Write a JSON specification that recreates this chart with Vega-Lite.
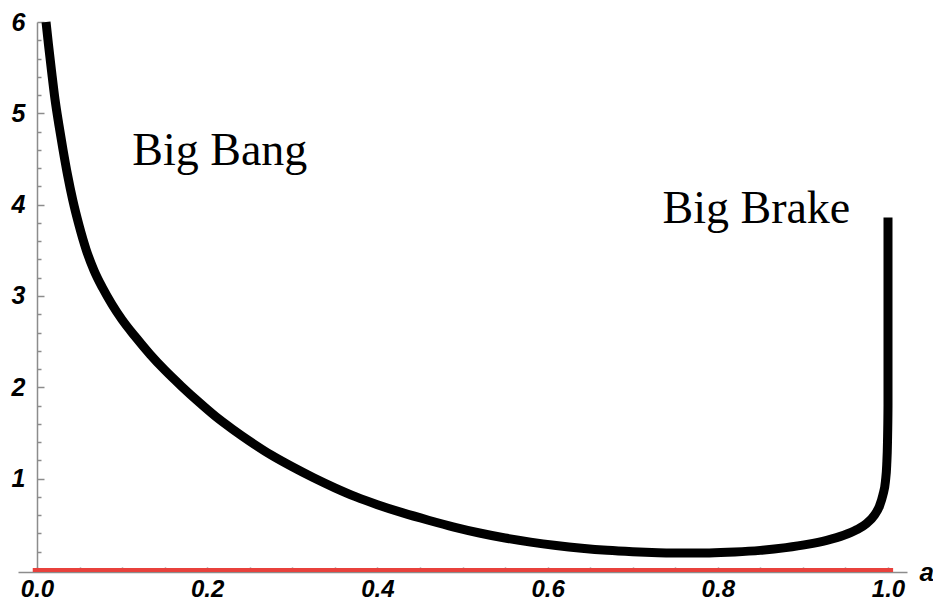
{
  "$schema": "https://vega.github.io/schema/vega-lite/v6.json",
  "width": 889,
  "height": 550,
  "autosize": {"type": "none"},
  "padding": {"left": 18, "top": 22, "right": 26, "bottom": 30},
  "background": "white",
  "config": {"view": {"stroke": null}},
  "datasets": {
    "curve": [
      {"i": 0, "a": 0.0106, "H": 6.0},
      {"i": 1, "a": 0.0135, "H": 5.75},
      {"i": 2, "a": 0.017, "H": 5.47},
      {"i": 3, "a": 0.0212, "H": 5.15},
      {"i": 4, "a": 0.0258, "H": 4.87},
      {"i": 5, "a": 0.0306, "H": 4.6},
      {"i": 6, "a": 0.036, "H": 4.32},
      {"i": 7, "a": 0.042, "H": 4.05},
      {"i": 8, "a": 0.0495, "H": 3.77},
      {"i": 9, "a": 0.058, "H": 3.5},
      {"i": 10, "a": 0.067, "H": 3.28},
      {"i": 11, "a": 0.077, "H": 3.09},
      {"i": 12, "a": 0.088, "H": 2.91},
      {"i": 13, "a": 0.1, "H": 2.74},
      {"i": 14, "a": 0.115, "H": 2.56},
      {"i": 15, "a": 0.133, "H": 2.36},
      {"i": 16, "a": 0.15, "H": 2.19},
      {"i": 17, "a": 0.17, "H": 2.01},
      {"i": 18, "a": 0.19, "H": 1.84},
      {"i": 19, "a": 0.21, "H": 1.68},
      {"i": 20, "a": 0.23, "H": 1.54},
      {"i": 21, "a": 0.25, "H": 1.41},
      {"i": 22, "a": 0.275, "H": 1.26},
      {"i": 23, "a": 0.3, "H": 1.13},
      {"i": 24, "a": 0.325, "H": 1.01},
      {"i": 25, "a": 0.35, "H": 0.9},
      {"i": 26, "a": 0.375, "H": 0.8},
      {"i": 27, "a": 0.4, "H": 0.715},
      {"i": 28, "a": 0.43, "H": 0.625},
      {"i": 29, "a": 0.46, "H": 0.545},
      {"i": 30, "a": 0.49, "H": 0.47},
      {"i": 31, "a": 0.52, "H": 0.405},
      {"i": 32, "a": 0.55, "H": 0.35},
      {"i": 33, "a": 0.58, "H": 0.305},
      {"i": 34, "a": 0.61, "H": 0.268},
      {"i": 35, "a": 0.64, "H": 0.238},
      {"i": 36, "a": 0.67, "H": 0.215},
      {"i": 37, "a": 0.70, "H": 0.2},
      {"i": 38, "a": 0.73, "H": 0.19},
      {"i": 39, "a": 0.76, "H": 0.185},
      {"i": 40, "a": 0.79, "H": 0.187},
      {"i": 41, "a": 0.82, "H": 0.197},
      {"i": 42, "a": 0.85, "H": 0.215},
      {"i": 43, "a": 0.88, "H": 0.245},
      {"i": 44, "a": 0.905, "H": 0.28},
      {"i": 45, "a": 0.928, "H": 0.325},
      {"i": 46, "a": 0.948, "H": 0.38},
      {"i": 47, "a": 0.963, "H": 0.44},
      {"i": 48, "a": 0.975, "H": 0.51},
      {"i": 49, "a": 0.984, "H": 0.6},
      {"i": 50, "a": 0.99, "H": 0.7},
      {"i": 51, "a": 0.994, "H": 0.82},
      {"i": 52, "a": 0.997, "H": 0.97},
      {"i": 53, "a": 0.9985, "H": 1.15},
      {"i": 54, "a": 0.9994, "H": 1.4},
      {"i": 55, "a": 1.0, "H": 1.8},
      {"i": 56, "a": 1.0, "H": 3.86}
    ],
    "zero": [
      {"a": -0.005, "H": 0},
      {"a": 1.006, "H": 0}
    ],
    "labels": [
      {"a": 0.112, "H": 4.43, "label": "Big Bang"},
      {"a": 0.735, "H": 3.8, "label": "Big Brake"}
    ]
  },
  "resolve": {"axis": {"y": "independent"}},
  "layer": [
    {
      "data": {"name": "zero"},
      "mark": {"type": "line", "color": "#e8413c", "strokeWidth": 4, "clip": false},
      "encoding": {
        "x": {
          "field": "a", "type": "quantitative",
          "scale": {"domain": [-0.02233, 1.02233], "nice": false, "zero": false},
          "axis": {
            "values": [0, 0.05, 0.1, 0.15, 0.2, 0.25, 0.3, 0.35, 0.4, 0.45, 0.5, 0.55, 0.6, 0.65, 0.7, 0.75, 0.8, 0.85, 0.9, 0.95, 1.0],
            "format": ".1f",
            "labelExpr": "abs(datum.value*5 - round(datum.value*5)) < 1e-6 ? datum.label : ''",
            "grid": false,
            "domainColor": "#8c8c8c", "domainWidth": 1.5,
            "tickColor": "#8c8c8c", "tickWidth": 1.5,
            "tickSize": -5,
            "labelPadding": 10,
            "labelFont": "Liberation Sans", "labelFontSize": 24, "labelFontStyle": "italic", "labelFontWeight": "bold",
            "labelColor": "black", "labelFlush": false, "labelOverlap": false,
            "title": "a", "titleX": 901, "titleY": 8, "titleAlign": "left", "titleBaseline": "alphabetic", "titleAngle": 0,
            "titleFont": "Liberation Sans", "titleFontSize": 26, "titleFontStyle": "italic", "titleFontWeight": "bold", "titleColor": "black"
          }
        },
        "y": {
          "field": "H", "type": "quantitative",
          "scale": {"domain": [-0.0219, 6], "nice": false, "zero": false},
          "axis": {
            "orient": "left",
            "offset": -19,
            "values": [1, 2, 3, 4, 5, 6],
            "format": "d",
            "grid": false,
            "domainColor": "#8c8c8c", "domainWidth": 1.5,
            "tickColor": "#8c8c8c", "tickWidth": 1.5,
            "tickSize": -7,
            "labelPadding": 19,
            "labelFont": "Liberation Sans", "labelFontSize": 25, "labelFontStyle": "italic", "labelFontWeight": "bold",
            "labelColor": "black", "labelFlush": false, "labelOverlap": false,
            "title": null
          }
        }
      }
    },
    {
      "data": {"name": "curve"},
      "mark": {"type": "line", "color": "black", "strokeWidth": 9, "strokeCap": "butt", "strokeJoin": "round", "interpolate": "monotone", "clip": false},
      "encoding": {
        "x": {"field": "a", "type": "quantitative"},
        "y": {
          "field": "H", "type": "quantitative",
          "axis": {
            "orient": "left",
            "offset": -19,
            "values": [0.2, 0.4, 0.6, 0.8, 1.2, 1.4, 1.6, 1.8, 2.2, 2.4, 2.6, 2.8, 3.2, 3.4, 3.6, 3.8, 4.2, 4.4, 4.6, 4.8, 5.2, 5.4, 5.6, 5.8],
            "grid": false,
            "domain": false,
            "labels": false,
            "tickColor": "#8c8c8c", "tickWidth": 1.5,
            "tickSize": -4,
            "title": null
          }
        },
        "order": {"field": "i", "type": "quantitative"}
      }
    },
    {
      "data": {"name": "labels"},
      "mark": {"type": "text", "font": "Liberation Serif", "fontSize": 46, "align": "left", "baseline": "alphabetic", "color": "black"},
      "encoding": {
        "x": {"field": "a", "type": "quantitative"},
        "y": {"field": "H", "type": "quantitative", "axis": null},
        "text": {"field": "label", "type": "nominal"}
      }
    }
  ]
}
